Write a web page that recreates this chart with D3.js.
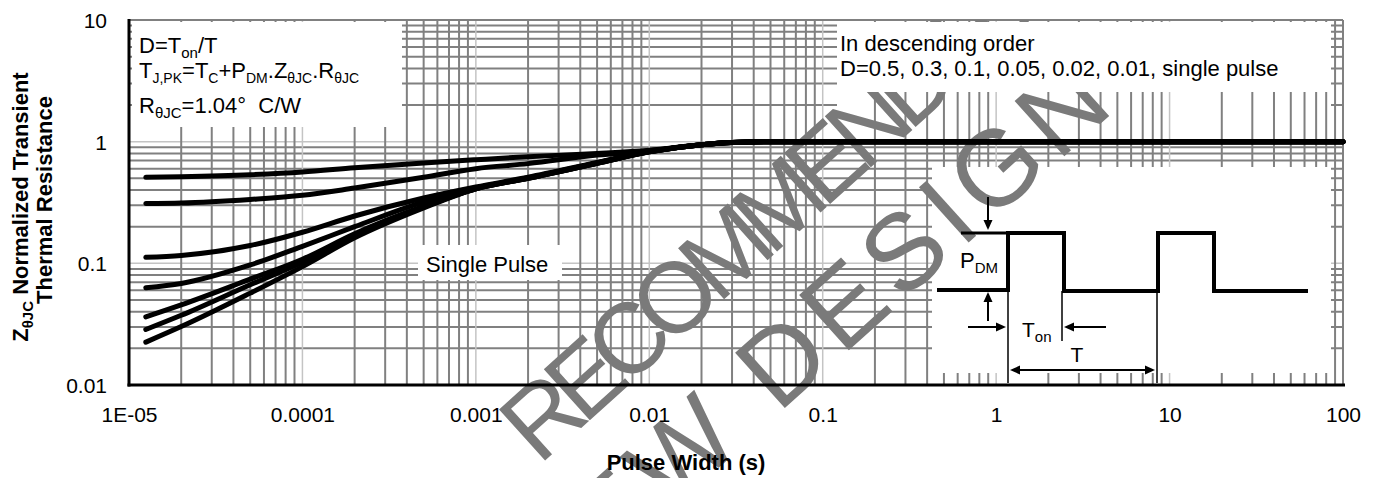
<!DOCTYPE html>
<html><head><meta charset="utf-8">
<script src="https://cdn.jsdelivr.net/npm/d3@7"></script>
<style>
body{margin:0;background:#fff}
svg{display:block}
text{font-family:"Liberation Sans",Arial,sans-serif;fill:#000}
</style>
</head><body>
<svg id="c" width="1381" height="478"></svg>
<script>
// ---------------- data ----------------
const pulseWidth = [1.25e-5, 2e-5, 5e-5, 1e-4, 2e-4, 5e-4, 1e-3, 2e-3, 5e-3, 1e-2, 2e-2, 3e-2, 5e-2, 0.1, 1, 10, 100];
const zD050 = [0.509, 0.515, 0.535, 0.563, 0.61, 0.668, 0.71, 0.753, 0.80, 0.851, 0.945, 0.985, 1, 1, 1, 1, 1];
const zD030 = [0.31, 0.313, 0.335, 0.362, 0.416, 0.51, 0.60, 0.66, 0.775, 0.843, 0.945, 0.985, 1, 1, 1, 1, 1];
const zD010 = [0.112, 0.116, 0.14, 0.18, 0.245, 0.344, 0.424, 0.51, 0.675, 0.83, 0.945, 0.985, 1, 1, 1, 1, 1];
const zD005 = [0.063, 0.0683, 0.097, 0.138, 0.20, 0.32, 0.415, 0.505, 0.67, 0.828, 0.945, 0.985, 1, 1, 1, 1, 1];
const zD002 = [0.0363, 0.0455, 0.0741, 0.108, 0.175, 0.295, 0.41, 0.50, 0.665, 0.826, 0.945, 0.985, 1, 1, 1, 1, 1];
const zD001 = [0.0286, 0.0374, 0.0667, 0.102, 0.168, 0.29, 0.41, 0.50, 0.665, 0.826, 0.945, 0.985, 1, 1, 1, 1, 1];
const zSingle = [0.0225, 0.0302, 0.0569, 0.094, 0.162, 0.285, 0.41, 0.50, 0.665, 0.825, 0.945, 0.985, 1, 1, 1, 1, 1];
const seriesNames = ["D=0.5", "D=0.3", "D=0.1", "D=0.05", "D=0.02", "D=0.01", "Single Pulse"];
const seriesValues = [zD050, zD030, zD010, zD005, zD002, zD001, zSingle];

const xTickValues = [1e-5, 1e-4, 1e-3, 1e-2, 1e-1, 1, 10, 100];
const xTickLabels = ["1E-05", "0.0001", "0.001", "0.01", "0.1", "1", "10", "100"];
const yTickValues = [0.01, 0.1, 1, 10];
const yTickLabels = ["0.01", "0.1", "1", "10"];

// ---------------- layout ----------------
const svg = d3.select("#c");
const L = 129, R = 1343, T = 20, B = 385;
const x = d3.scaleLog().domain([1e-5, 100]).range([L, R]);
const y = d3.scaleLog().domain([0.01, 10]).range([B, T]);
const GRID_DARK = "#808080", GRID_LIGHT = "#c4c4c4";

svg.append("defs").append("clipPath").attr("id", "wmclip")
  .append("rect").attr("x", 0).attr("y", T).attr("width", 1381).attr("height", 478 - T);

svg.append("rect").attr("width", 1381).attr("height", 478).attr("fill", "#fff");

// horizontal grid
const gH = svg.append("g");
for (let e = -2; e <= 0; e++) {
  for (let m = 1; m <= 9; m++) {
    const v = m * Math.pow(10, e);
    if (v <= 0.01) continue;
    gH.append("line").attr("x1", L).attr("x2", R).attr("y1", y(v)).attr("y2", y(v))
      .attr("stroke", m === 1 ? GRID_LIGHT : GRID_DARK).attr("stroke-width", m === 1 ? 1.5 : 2);
  }
}
// band under legend where horizontal lines are hidden
svg.append("rect").attr("x", 837).attr("y", 92).attr("width", 494).attr("height", 43).attr("fill", "#fff");

// vertical grid
const gV = svg.append("g");
for (let e = -5; e <= 1; e++) {
  for (let m = 1; m <= 9; m++) {
    const v = m * Math.pow(10, e);
    if (v <= 1e-5) continue;
    gV.append("line").attr("y1", T).attr("y2", B).attr("x1", x(v)).attr("x2", x(v))
      .attr("stroke", m === 1 ? GRID_LIGHT : GRID_DARK).attr("stroke-width", m === 1 ? 1.5 : 2);
  }
}
// frame
svg.append("line").attr("x1", L).attr("x2", R).attr("y1", T).attr("y2", T).attr("stroke", GRID_DARK).attr("stroke-width", 2);
svg.append("line").attr("x1", R).attr("x2", R).attr("y1", T).attr("y2", B).attr("stroke", GRID_DARK).attr("stroke-width", 2);

// inset white background
svg.append("rect").attr("x", 932).attr("y", 167).attr("width", 399).attr("height", 206).attr("fill", "#fff");
// single pulse label box
svg.append("rect").attr("x", 418).attr("y", 245).attr("width", 144).attr("height", 35).attr("fill", "#fff");

// watermark
const wm = svg.append("g").attr("clip-path", "url(#wmclip)");
wm.append("text").attr("transform", "translate(539,466) rotate(-42)").attr("letter-spacing", -12)
  .style("fill", "#7a7a7a").style("font-size", "100px").text("RECOMMENDED");
wm.append("text").attr("transform", "translate(545,624) rotate(-42)").attr("letter-spacing", 8)
  .style("fill", "#7a7a7a").style("font-size", "108px").text("NEW DESIGN");

// axes lines
svg.append("line").attr("x1", L).attr("x2", L).attr("y1", T - 1).attr("y2", B + 1.5).attr("stroke", "#000").attr("stroke-width", 3);
svg.append("line").attr("x1", L - 1.5).attr("x2", R + 2).attr("y1", B).attr("y2", B).attr("stroke", "#000").attr("stroke-width", 3);

// curves
const line = d3.line().x(d => x(d[0])).y(d => y(d[1])).curve(d3.curveMonotoneX);
const gC = svg.append("g");
seriesValues.forEach((vals, i) => {
  gC.append("path").datum(pulseWidth.map((p, j) => [p, vals[j]]))
    .attr("d", line).attr("fill", "none").attr("stroke", "#000")
    .attr("stroke-width", 5).attr("stroke-linecap", "round").attr("stroke-linejoin", "round")
    .attr("data-name", seriesNames[i]);
});

// tick labels via axes
const xAxis = d3.axisBottom(x).tickValues(xTickValues).tickFormat((d, i) => xTickLabels[i]).tickSize(0).tickPadding(22);
const gx = svg.append("g").attr("transform", `translate(0,${B})`).call(xAxis);
gx.select(".domain").remove();
gx.selectAll("text").style("font-size", "21px").style("font-family", '"Liberation Sans",Arial,sans-serif').attr("fill", "#000");

const yAxis = d3.axisLeft(y).tickValues(yTickValues).tickFormat((d, i) => yTickLabels[i]).tickSize(0).tickPadding(22);
const gy = svg.append("g").attr("transform", `translate(${L},0)`).call(yAxis);
gy.select(".domain").remove();
gy.selectAll("text").style("font-size", "21px").style("font-family", '"Liberation Sans",Arial,sans-serif').attr("fill", "#000").attr("dy", "0.36em");

// rich text helper
function rich(g, xx, yy, parts, size, subSize, opts = {}) {
  const t = g.append("text").attr("x", xx).attr("y", yy).style("font-size", size + "px").style("white-space", "pre");
  if (opts.anchor) t.attr("text-anchor", opts.anchor);
  if (opts.weight) t.style("font-weight", opts.weight);
  if (opts.transform) t.attr("transform", opts.transform);
  let down = false;
  parts.forEach(([s, sub]) => {
    const ts = t.append("tspan").text(s);
    if (sub && !down) { ts.attr("dy", 5).style("font-size", subSize + "px"); down = true; }
    else if (sub) { ts.style("font-size", subSize + "px"); }
    else if (down) { ts.attr("dy", -5); down = false; }
  });
  return t;
}

// inset drawing
const gi = svg.append("g");
gi.append("path").attr("d", "M937,290 H1008 V233 H1064 V291 H1158 V233 H1214 V291 H1308")
  .attr("fill", "none").attr("stroke", "#000").attr("stroke-width", 4);
gi.append("path").attr("d", "M961,233 H1008").attr("stroke", "#000").attr("stroke-width", 3);
[[1008, 291, 383], [1062, 291, 341], [1157, 291, 383]].forEach(([xx, a, b]) =>
  gi.append("line").attr("x1", xx).attr("x2", xx).attr("y1", a).attr("y2", b).attr("stroke", "#000").attr("stroke-width", 1.5));
function arrow(x1, y1, x2, y2) {
  const a = Math.atan2(y2 - y1, x2 - x1), hl = 10, hw = 4.5;
  const bx = x2 - hl * Math.cos(a), by = y2 - hl * Math.sin(a);
  gi.append("line").attr("x1", x1).attr("y1", y1).attr("x2", bx).attr("y2", by).attr("stroke", "#000").attr("stroke-width", 2);
  gi.append("path").attr("d", `M${x2},${y2} L${bx - hw * Math.sin(a)},${by + hw * Math.cos(a)} L${bx + hw * Math.sin(a)},${by - hw * Math.cos(a)} Z`).attr("fill", "#000");
}
arrow(988, 197, 988, 230);
arrow(988, 321, 988, 292);
arrow(968, 327, 1006, 327);
arrow(1106, 327, 1064, 327);
arrow(1080, 370, 1010, 370);
arrow(1080, 370, 1155, 370);
rich(gi, 960, 268, [["P", 0], ["DM", 1]], 22, 15);
rich(gi, 1022, 337, [["T", 0], ["on", 1]], 21, 15);
rich(gi, 1077, 362, [["T", 0]], 21, 15, {anchor: "middle"});

// annotation boxes
svg.append("rect").attr("x", 132).attr("y", 22).attr("width", 270).attr("height", 105).attr("fill", "#fff");
svg.append("rect").attr("x", 837).attr("y", 22).attr("width", 494).attr("height", 70).attr("fill", "#fff");

const ga = svg.append("g");
rich(ga, 139, 53, [["D=T", 0], ["on", 1], ["/T", 0]], 22, 15);
rich(ga, 139, 78, [["T", 0], ["J,PK", 1], ["=T", 0], ["C", 1], ["+P", 0], ["DM", 1], [".Z", 0], ["θJC", 1], [".R", 0], ["θJC", 1]], 22, 14);
rich(ga, 139, 113, [["R", 0], ["θJC", 1], ["=1.04°  C/W", 0]], 22, 15);
rich(ga, 840, 51, [["In descending order", 0]], 22, 15);
rich(ga, 840, 76, [["D=0.5, 0.3, 0.1, 0.05, 0.02, 0.01, single pulse", 0]], 22, 15);
rich(ga, 426, 272, [["Single Pulse", 0]], 22, 15);

// axis titles
rich(ga, 0, 0, [["Z", 0], ["θJC", 1], [" Normalized Transient", 0]], 22, 15, {anchor: "middle", weight: "bold", transform: "translate(28,207) rotate(-90)"});
rich(ga, 0, 0, [["Thermal Resistance", 0]], 22, 15, {anchor: "middle", weight: "bold", transform: "translate(52,200) rotate(-90)"});
rich(ga, 686, 470, [["Pulse Width (s)", 0]], 22, 15, {anchor: "middle", weight: "bold"});
</script>
</body></html>
